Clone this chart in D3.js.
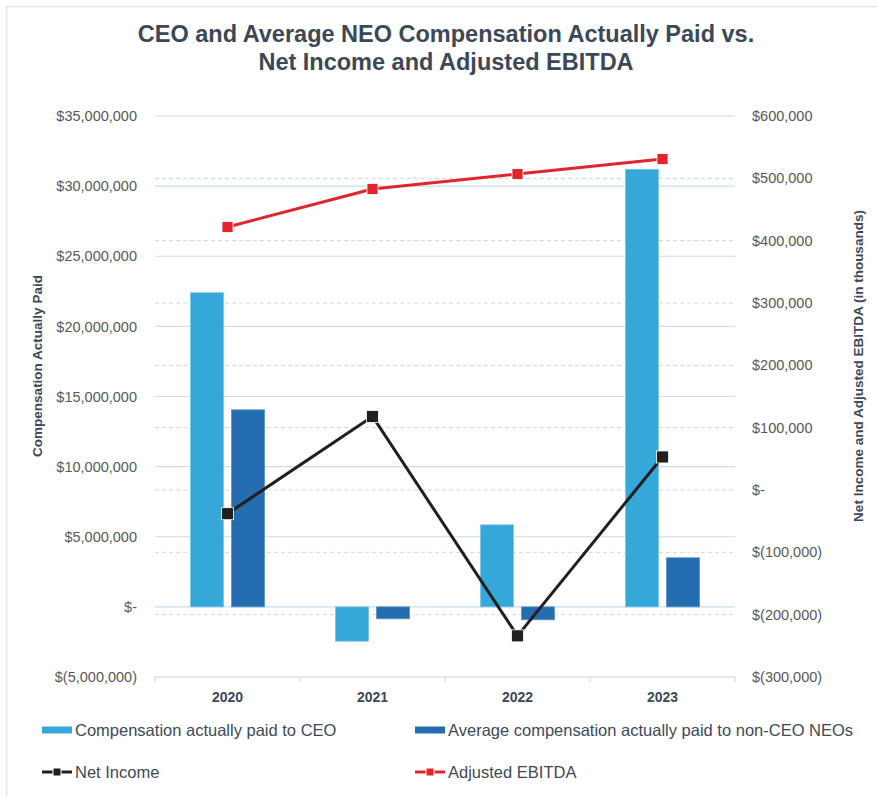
<!DOCTYPE html>
<html>
<head>
<meta charset="utf-8">
<script src="https://cdn.jsdelivr.net/npm/d3@7"></script>
<style>
  html, body { margin: 0; padding: 0; background: #fff; }
  svg { display: block; font-family: "Liberation Sans", Arial, sans-serif; }
</style>
</head>
<body>
<svg id="chart" width="877" height="796"></svg>
<script>
// ---- Data ----
const years = ["2020", "2021", "2022", "2023"];
const ceoCap = [22400000, -2450000, 5850000, 31200000];
const neoCap = [14050000, -850000, -920000, 3500000];
const netIncome = [-38000, 118000, -234000, 53000];      // in thousands
const adjEbitda = [422000, 483000, 507000, 531000];      // in thousands
const leftTicks = [-5000000, 0, 5000000, 10000000, 15000000, 20000000, 25000000, 30000000, 35000000];
const rightTicks = [-300000, -200000, -100000, 0, 100000, 200000, 300000, 400000, 500000, 600000];
const titleLines = ["CEO and Average NEO Compensation Actually Paid vs.", "Net Income and Adjusted EBITDA"];
const leftAxisTitle = "Compensation Actually Paid";
const rightAxisTitle = "Net Income and Adjusted EBITDA (in thousands)";
const seriesNames = ["Compensation actually paid to CEO", "Average compensation actually paid to non-CEO NEOs", "Net Income", "Adjusted EBITDA"];

// ---- Styles ----
const C = {
  ceo: "#35a8d9", neo: "#236db0", ni: "#231f20", eb: "#e2252d",
  title: "#3c4858", tick: "#595959", gridSolid: "#c9def0", gridDash: "#d6d6d6", axis: "#d0d0d0"
};

const svg = d3.select("#chart");
const plot = { left: 155, right: 735, top: 116, bottom: 677 };

// frame
svg.append("rect").attr("x", 6.5).attr("y", 6.5).attr("width", 900).attr("height", 900)
  .attr("fill", "none").attr("stroke", "#e4e6ea").attr("stroke-width", 1.5);

// title
svg.append("g").selectAll("text").data(titleLines).join("text")
  .attr("x", 446).attr("y", (d, i) => 42 + i * 28)
  .attr("text-anchor", "middle").attr("font-size", 23.5).attr("font-weight", "bold")
  .attr("fill", C.title).text(d => d);

// scales
const x = d3.scaleBand().domain(years).range([plot.left, plot.right]);
const x1 = d3.scaleBand().domain(["ceo", "neo"]).range([35.5, 109.5]).paddingInner(0.195);
const yL = d3.scaleLinear().domain([-5000000, 35000000]).range([plot.bottom, plot.top]);
const yR = d3.scaleLinear().domain([-300000, 600000]).range([plot.bottom, plot.top]);

const fmtNum = d3.format(",");
const money = v => v === 0 ? "$-" : (v < 0 ? "$(" + fmtNum(-v) + ")" : "$" + fmtNum(v));

// gridlines
const grid = svg.append("g");
grid.selectAll("line.gs").data(leftTicks.filter(t => t !== -5000000)).join("line")
  .attr("x1", plot.left).attr("x2", plot.right)
  .attr("y1", d => yL(d)).attr("y2", d => yL(d))
  .attr("stroke", C.gridSolid).attr("stroke-width", 1.2);
grid.selectAll("line.gd").data(rightTicks.filter(t => t !== -300000 && t !== 600000)).join("line")
  .attr("x1", plot.left).attr("x2", plot.right)
  .attr("y1", d => yR(d)).attr("y2", d => yR(d))
  .attr("stroke", C.gridDash).attr("stroke-width", 1).attr("stroke-dasharray", "4,3");

// x axis line with ticks between categories
const xa = svg.append("g");
xa.append("line").attr("x1", plot.left).attr("x2", plot.right)
  .attr("y1", plot.bottom).attr("y2", plot.bottom).attr("stroke", C.axis).attr("stroke-width", 1.2);
const bounds = years.map(y => x(y)).concat([x(years[years.length - 1]) + x.bandwidth()]);
xa.selectAll("line.t").data(bounds).join("line")
  .attr("x1", d => d).attr("x2", d => d).attr("y1", plot.bottom).attr("y2", plot.bottom + 5)
  .attr("stroke", C.axis).attr("stroke-width", 1);
xa.selectAll("text").data(years).join("text")
  .attr("x", d => x(d) + x.bandwidth() / 2).attr("y", 702)
  .attr("text-anchor", "middle").attr("font-size", 14).attr("font-weight", "bold")
  .attr("fill", C.title).text(d => d);

// left axis labels
const la = svg.append("g").attr("transform", `translate(137,0)`)
  .call(d3.axisLeft(yL).tickValues(leftTicks).tickSize(0).tickPadding(0).tickFormat(money));
la.select(".domain").remove();
la.selectAll("text").attr("font-size", 14.5).attr("fill", C.tick).attr("font-family", null);

// right axis labels
const ra = svg.append("g").attr("transform", `translate(752,0)`)
  .call(d3.axisRight(yR).tickValues(rightTicks).tickSize(0).tickPadding(0).tickFormat(money));
ra.select(".domain").remove();
ra.selectAll("text").attr("font-size", 14.5).attr("fill", C.tick).attr("font-family", null);

// axis titles
svg.append("text").attr("transform", "translate(42,366) rotate(-90)")
  .attr("text-anchor", "middle").attr("font-size", 13.5).attr("font-weight", "bold")
  .attr("fill", C.title).text(leftAxisTitle);
svg.append("text").attr("transform", "translate(863,366) rotate(-90)")
  .attr("text-anchor", "middle").attr("font-size", 13.5).attr("font-weight", "bold")
  .attr("fill", C.title).text(rightAxisTitle);

// bars
const barData = years.flatMap((yr, i) => [
  { yr, key: "ceo", v: ceoCap[i] },
  { yr, key: "neo", v: neoCap[i] }
]);
svg.append("g").selectAll("rect").data(barData).join("rect")
  .attr("x", d => x(d.yr) + x1(d.key))
  .attr("width", x1.bandwidth())
  .attr("y", d => Math.min(yL(d.v), yL(0)))
  .attr("height", d => Math.abs(yL(d.v) - yL(0)))
  .attr("fill", d => d.key === "ceo" ? C.ceo : C.neo)
  .attr("stroke", d => d.key === "ceo" ? "#7cc6e8" : "#5a93c6").attr("stroke-width", 0.8);

// lines
const cx = yr => x(yr) + x.bandwidth() / 2;
function drawLine(vals, color, size) {
  const pts = years.map((yr, i) => [cx(yr), yR(vals[i])]);
  svg.append("path").attr("d", d3.line()(pts)).attr("fill", "none")
    .attr("stroke", color).attr("stroke-width", 3).attr("stroke-linejoin", "round");
  svg.append("g").selectAll("rect").data(pts).join("rect")
    .attr("x", d => d[0] - size / 2).attr("y", d => d[1] - size / 2)
    .attr("width", size).attr("height", size)
    .attr("fill", color).attr("stroke", "#fff").attr("stroke-width", 0.8);
}
drawLine(adjEbitda, C.eb, 11);
drawLine(netIncome, C.ni, 12);

// legend
const lg = svg.append("g").attr("font-size", 16.5).attr("fill", "#404a57");
const legendItems = [
  { name: seriesNames[0], type: "bar", color: C.ceo, x: 42, y: 730 },
  { name: seriesNames[1], type: "bar", color: C.neo, x: 415, y: 730 },
  { name: seriesNames[2], type: "line", color: C.ni, x: 42, y: 772 },
  { name: seriesNames[3], type: "line", color: C.eb, x: 415, y: 772 }
];
legendItems.forEach(it => {
  const g = lg.append("g").attr("transform", `translate(${it.x},${it.y})`);
  if (it.type === "bar") {
    g.append("rect").attr("x", 0).attr("y", -3.5).attr("width", 30).attr("height", 7).attr("fill", it.color);
  } else {
    g.append("line").attr("x1", 0).attr("x2", 30).attr("y1", 0).attr("y2", 0)
      .attr("stroke", it.color).attr("stroke-width", 3);
    g.append("rect").attr("x", 11).attr("y", -4).attr("width", 8).attr("height", 8)
      .attr("fill", it.color).attr("stroke", "#fff").attr("stroke-width", 1);
  }
  g.append("text").attr("x", 33).attr("y", 0).attr("dy", "0.35em").text(it.name);
});
</script>
</body>
</html>
